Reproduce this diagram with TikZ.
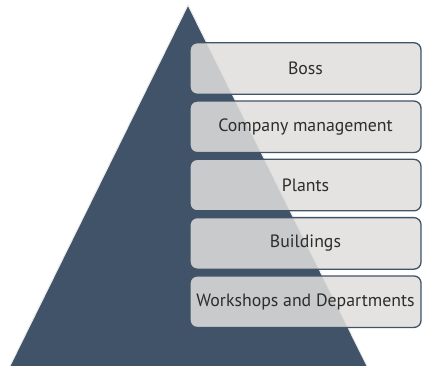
\documentclass[tikz,border=0pt]{standalone}
\usepackage{fontspec}
\setmainfont{PT Sans}
\usepackage{tikz}
\usetikzlibrary{positioning}

\definecolor{slate}{RGB}{64,83,105}
\definecolor{tierfill}{RGB}{223,222,220}
\definecolor{tiertext}{RGB}{45,45,45}

\tikzset{
    tier/.style={draw=slate, line width=1.3pt, fill=tierfill, fill opacity=0.86,
        text opacity=1, text=tiertext, rounded corners=7pt,
        minimum width=231pt, minimum height=51.5pt, font=\fontsize{17.8}{19}\selectfont}
}

\begin{document}
\begin{tikzpicture}[x=1pt, y=-1pt]
    \useasboundingbox (0, 0) rectangle (423, 366);
    \clip (0, 0) rectangle (423, 366);

    % pyramid
    \draw[fill=slate, draw=white!85!gray, line width=1pt]
        (188, 5) -- (374, 380) -- (3, 380) -- cycle;

    % levels
    \node[tier] (boss) at (305.5, 68.5) {Boss};
    \node[tier, below=5.5pt of boss] (mgmt) {Company management};
    \node[tier, below=5.5pt of mgmt] (plants) {Plants};
    \node[tier, below=5.5pt of plants] (buildings) {Buildings};
    \node[tier, below=5.5pt of buildings] (workshops) {Workshops and Departments};
\end{tikzpicture}
\end{document}
